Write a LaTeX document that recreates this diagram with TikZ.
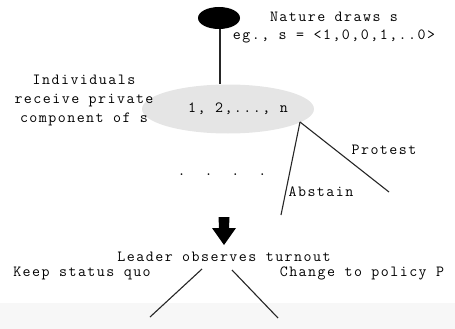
\documentclass[tikz,border=0pt]{standalone}
\usepackage{fontspec}
\setmainfont[LetterSpace=9.5]{Latin Modern Mono}
\usetikzlibrary{shapes.geometric}
\begin{document}
\begin{tikzpicture}[x=1pt,y=-1pt,
  lbl/.style={inner sep=0pt,font=\fontsize{15.5}{19}\selectfont,align=center},
  edge/.style={draw=black!85,line width=1.1pt},
]
\useasboundingbox (0,0) rectangle (455,329);
\fill[black!3] (0,303) rectangle (455,329);
% nature node
\node[ellipse,fill=black,minimum width=42pt,minimum height=22pt,inner sep=0pt] (nat) at (219,18) {};
\node[lbl,anchor=center] (natt) at (334,17) {Nature draws s};
\node[lbl,anchor=center] (eg) at (334,36) {eg., s = <1,0,0,1,..0>};
% individuals
\node[ellipse,fill=black!10,minimum width=172pt,minimum height=49pt,inner sep=0pt] (ind) at (228,109) {};
\node[lbl] (indt) at (238,109) {1, 2,..., n};
\node[lbl] (indl) at (84,100) {Individuals\\receive private\\component of s};
\draw[edge] (nat.south -| 220,0) -- (ind.north -| 220,0);
% branches
\coordinate (apex) at (300,122);
\coordinate (pend) at (389,192);
\coordinate (aend) at (281,215);
\draw[edge] (apex) -- (pend);
\draw[edge] (apex) -- (aend);
\node[lbl] (prot) at (384,150) {Protest};
\node[lbl] (abst) at (321,192) {Abstain};
\node[lbl] (dots) at (222,175) {.\hspace{19pt}.\hspace{19pt}.\hspace{19pt}.};
% big arrow
\fill[black] (218.5,217) -- (229.5,217) -- (229,228) -- (236,228) -- (224,245) -- (212,228) -- (219,228) -- cycle;
\coordinate (arr) at (224,245);
% leader
\node[lbl] (lead) at (224,257) {Leader observes turnout};
\coordinate (l1) at (202,269);
\coordinate (l2) at (150,317);
\coordinate (r1) at (232,270);
\coordinate (r2) at (278,318);
\draw[edge] (l1) -- (l2);
\draw[edge] (r1) -- (r2);
\node[lbl] (keep) at (82,273) {Keep status quo};
\node[lbl] (chg) at (362,273) {Change to policy P};
\end{tikzpicture}
\end{document}
